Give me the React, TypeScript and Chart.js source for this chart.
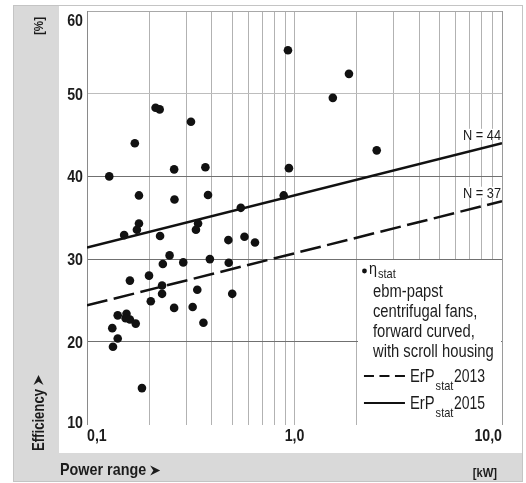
import React, { useEffect, useRef } from 'react';
import { Chart, registerables } from 'chart.js';

Chart.register(...registerables);

// ---- data ----
const powerKW = [
  0.128, 0.170, 0.214, 0.224, 0.317, 0.263, 0.372, 0.178, 0.264, 0.383,
  0.178, 0.174, 0.151, 0.225, 0.343, 0.335, 0.480, 0.574, 0.645, 0.551,
  0.930, 1.83, 1.53, 2.49, 0.94, 0.887, 0.250, 0.232, 0.291, 0.391,
  0.482, 0.199, 0.161, 0.230, 0.340, 0.230, 0.203, 0.501, 0.263, 0.323,
  0.364, 0.1406, 0.155, 0.1535, 0.161, 0.1717, 0.1324, 0.1406, 0.1334, 0.184,
];
const efficiency = [
  40.0, 44.0, 48.3, 48.1, 46.6, 40.85, 41.1, 37.7, 37.2, 37.75,
  34.3, 33.55, 32.9, 32.8, 34.3, 33.55, 32.3, 32.7, 32.0, 36.2,
  55.25, 52.4, 49.5, 43.15, 41.0, 37.7, 30.45, 29.4, 29.6, 30.0,
  29.55, 28.0, 27.4, 26.8, 26.3, 25.8, 24.9, 25.8, 24.1, 24.2,
  22.3, 23.2, 23.4, 22.85, 22.7, 22.2, 21.65, 20.4, 19.4, 14.4,
];
const erpPower = [0.1, 10];
const erp2013 = [24.4, 37];
const erp2015 = [31.4, 44];
const xTickValues = [0.1, 0.2, 0.3, 0.4, 0.5, 0.6, 0.7, 0.8, 0.9, 1, 2, 3, 4, 5, 6, 7, 8, 9, 10];
const xTickLabels: [number, string][] = [[0.1, '0,1'], [1, '1,0'], [10, '10,0']];
const yTickValues = [10, 20, 30, 40, 50, 60];
const lineLabels: [number, string][] = [[44, 'N = 44'], [37, 'N = 37']];
const legendLines = ['ebm-papst', 'centrifugal fans,', 'forward curved,', 'with scroll housing'];

const FAM = '"Liberation Sans", Arial, sans-serif';
const TXT = '#1c1c1c';

// draws horizontally condensed text (emulates a narrow typeface)
function ctext(ctx: any, t: string, x: number, y: number, font: string, align: string, sx = 0.88) {
  ctx.save();
  ctx.font = font;
  const w = ctx.measureText(t).width * sx;
  let x0 = x;
  if (align === 'right') x0 = x - w;
  else if (align === 'center') x0 = x - w / 2;
  ctx.translate(x0, y);
  ctx.scale(sx, 1);
  ctx.textAlign = 'left';
  ctx.fillText(t, 0, 0);
  ctx.restore();
  return w;
}

// arrowhead "➤" pointing along +x from (x, y) center-left
function arrow(ctx: any, x: number, y: number, len: number, half: number) {
  ctx.beginPath();
  ctx.moveTo(x, y - half);
  ctx.lineTo(x + len, y);
  ctx.lineTo(x, y + half);
  ctx.lineTo(x + len * 0.32, y);
  ctx.closePath();
  ctx.fill();
}

const framePlugin = {
  id: 'frame',
  beforeDraw(chart: any) {
    const ctx = chart.ctx;
    ctx.save();
    ctx.fillStyle = '#ffffff';
    ctx.fillRect(0, 0, chart.width, chart.height);
    ctx.fillStyle = '#d9d9d9';
    ctx.fillRect(13, 5, 46, 477);
    ctx.fillRect(13, 453, 510, 29);
    ctx.strokeStyle = '#c4c4c4';
    ctx.lineWidth = 1;
    ctx.strokeRect(13.5, 5.5, 509, 476);
    ctx.restore();
  },
  beforeDatasetsDraw(chart: any) {
    const ctx = chart.ctx;
    const xs = chart.scales.x;
    const ys = chart.scales.y;
    const a = chart.chartArea;
    const x0 = Math.round(xs.getPixelForValue(2)) + 1;
    const y0 = Math.round(ys.getPixelForValue(30)) + 1;
    ctx.save();
    ctx.fillStyle = '#ffffff';
    ctx.fillRect(x0, y0, Math.round(a.right) - 1 - x0, chart.height - 30 - y0);
    ctx.restore();
  },
  afterDraw(chart: any) {
    const ctx = chart.ctx;
    const xs = chart.scales.x;
    const ys = chart.scales.y;
    const a = chart.chartArea;
    ctx.save();
    ctx.fillStyle = TXT;
    ctx.textBaseline = 'alphabetic';
    // y tick labels
    const yf = `bold 16.5px ${FAM}`;
    yTickValues.forEach((v) => {
      let y = ys.getPixelForValue(v);
      y = Math.max(a.top + 8.5, Math.min(a.bottom - 2.5, y));
      ctext(ctx, String(v), a.left - 4, y + 6, yf, 'right', 0.86);
    });
    // x tick labels
    xTickLabels.forEach(([v, t], i) => {
      const x = xs.getPixelForValue(v);
      const al = i === 0 ? 'left' : i === xTickLabels.length - 1 ? 'right' : 'center';
      ctext(ctx, t, x, a.bottom + 16, yf, al, 0.86);
    });
    // N labels
    lineLabels.forEach(([v, t]) => {
      const y = ys.getPixelForValue(v) - 3.5;
      ctx.font = `14.5px ${FAM}`;
      const w = ctx.measureText(t).width * 0.88;
      ctx.fillStyle = '#ffffff';
      ctx.fillRect(a.right - w - 1, y - 11, w, 11);
      ctx.fillStyle = TXT;
      ctext(ctx, t, a.right - 1, y, `14.5px ${FAM}`, 'right', 0.88);
    });
    // legend
    const lx = xs.getPixelForValue(2);
    const lf = `17.5px ${FAM}`;
    const ls = 0.845;
    ctx.fillStyle = '#111';
    ctx.beginPath();
    ctx.arc(lx + 7.5, 271, 2.4, 0, Math.PI * 2);
    ctx.fill();
    ctx.fillStyle = TXT;
    const ew = ctext(ctx, 'η', lx + 12, 274, `16px ${FAM}`, 'left', 0.9);
    ctext(ctx, 'stat', lx + 13 + ew, 277.5, `13px ${FAM}`, 'left', 0.85);
    legendLines.forEach((t, i) => ctext(ctx, t, lx + 16, 297 + i * 20, lf, 'left', ls));
    const samples: [number, number[]][] = [[376, [10, 5.5]], [403, []]];
    samples.forEach(([y, dash], i) => {
      ctx.strokeStyle = '#111';
      ctx.lineWidth = 2.2;
      ctx.setLineDash(dash);
      ctx.beginPath();
      ctx.moveTo(lx + 7, y);
      ctx.lineTo(lx + 48, y);
      ctx.stroke();
      ctx.setLineDash([]);
      const w = ctext(ctx, 'ErP', lx + 53, y + 6, lf, 'left', ls);
      ctext(ctx, 'stat', lx + 54 + w, y + 14, `13px ${FAM}`, 'left', 0.85);
      ctext(ctx, i === 0 ? '2013' : '2015', lx + 97, y + 6, lf, 'left', 0.8);
    });
    // axis titles
    const pw = ctext(ctx, 'Power range', 60, 475, `bold 16.5px ${FAM}`, 'left', 0.87);
    arrow(ctx, 60 + pw + 4, 470.5, 10, 5);
    ctext(ctx, '[kW]', 497, 477, `bold 13.5px ${FAM}`, 'right', 0.83);
    ctx.save();
    ctx.translate(43, 0);
    ctx.rotate(-Math.PI / 2);
    ctext(ctx, '[%]', -17, 0, `bold 13.5px ${FAM}`, 'right', 0.86);
    const ew2 = ctext(ctx, 'Efficiency', -451, 1, `bold 16px ${FAM}`, 'left', 0.82);
    arrow(ctx, -451 + ew2 + 4, -4.5, 10, 5);
    ctx.restore();
    ctx.restore();
  },
};

export default function App() {
  const ref = useRef<HTMLCanvasElement | null>(null);
  useEffect(() => {
    if (!ref.current) return;
    const scatter = powerKW.map((x, i) => ({ x, y: efficiency[i] }));
    const l2013 = erpPower.map((x, i) => ({ x, y: erp2013[i] }));
    const l2015 = erpPower.map((x, i) => ({ x, y: erp2015[i] }));
    const chart = new Chart(ref.current, {
      type: 'scatter',
      data: {
        datasets: [
          {
            data: l2015 as any,
            showLine: true,
            borderColor: '#111',
            borderWidth: 2.5,
            pointRadius: 0,
          },
          {
            data: l2013 as any,
            showLine: true,
            borderColor: '#111',
            borderWidth: 2.5,
            borderDash: [21, 6.5],
            pointRadius: 0,
          },
          {
            data: scatter as any,
            pointRadius: 4.3,
            pointBackgroundColor: '#111',
            pointBorderWidth: 0,
            borderColor: '#111',
          },
        ],
      },
      options: {
        responsive: false,
        animation: false,
        events: [],
        layout: { padding: { left: 87, top: 11, right: 24, bottom: 58.5 } },
        plugins: { legend: { display: false }, tooltip: { enabled: false }, title: { display: false } },
        scales: {
          x: {
            type: 'logarithmic',
            min: 0.1,
            max: 10,
            afterBuildTicks: (s: any) => {
              s.ticks = xTickValues.map((v) => ({ value: v }));
            },
            afterFit: (s: any) => {
              s.height = 0;
            },
            border: { display: false },
            grid: {
              drawTicks: false,
              lineWidth: 1,
              color: (c: any) => {
                const v = c.tick ? c.tick.value : 0;
                if (Math.abs(v - 0.1) < 1e-9) return 'rgba(0,0,0,0)';
                if (Math.abs(v - 10) < 1e-9) return '#9a9a9a';
                return '#b2b2b2';
              },
            },
            ticks: { display: false, autoSkip: false },
          },
          y: {
            type: 'linear',
            min: 10,
            max: 60,
            afterBuildTicks: (s: any) => {
              s.ticks = yTickValues.map((v) => ({ value: v }));
            },
            afterFit: (s: any) => {
              s.width = 0;
            },
            border: { display: true, color: '#8a8a8a', width: 1 },
            grid: {
              drawTicks: false,
              lineWidth: 1,
              color: (c: any) => {
                const v = c.tick ? c.tick.value : 0;
                if (v === 10) return 'rgba(0,0,0,0)';
                if (v === 60) return '#a8a8a8';
                if (v === 50) return '#bdbdbd';
                return '#707070';
              },
            },
            ticks: { display: false },
          },
        },
      } as any,
      plugins: [framePlugin],
    });
    return () => chart.destroy();
  }, []);
  return (
    <div style={{ position: 'fixed', left: 0, top: 0, width: 526, height: 483 }}>
      <canvas ref={ref} width={526} height={483} style={{ width: 526, height: 483, display: 'block' }} />
    </div>
  );
}
